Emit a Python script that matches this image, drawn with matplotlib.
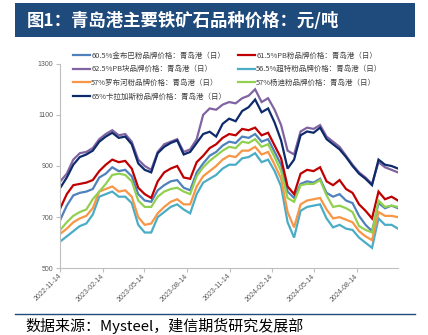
import matplotlib
matplotlib.use("Agg")
import matplotlib.pyplot as plt
import pandas as pd
from matplotlib.patches import Rectangle
from matplotlib.lines import Line2D

plt.rcParams['font.family'] = ['Noto Sans CJK SC', 'DejaVu Sans']

# ---------------- data (~biweekly) ----------------
dates = pd.date_range("2022-11-14", periods=53, freq="14D")

mac_605 = [690, 745, 785, 795, 800, 810, 855, 870, 895, 880, 885, 860, 790, 765, 760,
           805, 825, 840, 845, 815, 805, 875, 910, 940, 955, 980, 995, 990, 1015, 1010,
           1025, 995, 1005, 955, 905, 800, 775, 830, 840, 835, 850, 795, 780, 790, 765,
           755, 705, 670, 645, 755, 735, 745, 735]
pb_615 = [735, 790, 825, 830, 835, 845, 880, 905, 925, 915, 920, 890, 815, 790, 775,
          840, 875, 890, 900, 855, 850, 915, 940, 970, 985, 1010, 1025, 1020, 1045, 1040,
          1050, 1020, 1030, 980, 930, 820, 790, 870, 885, 880, 895, 840, 825, 845, 810,
          795, 750, 725, 695, 800, 770, 780, 765]
pb_lump_625 = [840, 870, 925, 950, 955, 970, 1005, 1025, 1040, 1020, 1025, 995, 925, 900, 885,
               955, 985, 995, 1005, 955, 965, 1005, 1100, 1125, 1120, 1140, 1150, 1145, 1165, 1175,
               1200, 1150, 1165, 1120, 1060, 960, 945, 1035, 1050, 1045, 1060, 1015, 995, 975, 940,
               905, 875, 855, 830, 915, 895, 885, 875]
ssf_565 = [605, 625, 645, 665, 675, 710, 780, 790, 800, 780, 780, 755, 670, 640, 640,
           700, 720, 740, 750, 730, 715, 790, 835, 850, 865, 890, 905, 905, 930, 935,
           950, 915, 925, 880, 820, 680, 620, 725, 740, 745, 750, 695, 660, 670, 655,
           650, 620, 600, 580, 695, 670, 670, 655]
robe_57 = [635, 655, 680, 695, 705, 735, 800, 810, 820, 800, 805, 780, 700, 670, 675,
           715, 740, 760, 770, 750, 750, 820, 860, 880, 900, 925, 940, 935, 960, 960,
           975, 945, 955, 905, 850, 720, 660, 750, 765, 770, 775, 730, 695, 700, 690,
           680, 645, 625, 610, 720, 705, 705, 700]
yandi_57 = [650, 680, 705, 720, 730, 770, 800, 830, 865, 870, 865, 840, 765, 740, 740,
            780, 800, 810, 815, 800, 790, 860, 895, 920, 940, 960, 975, 970, 995, 990,
            1005, 975, 985, 935, 880, 775, 760, 825, 830, 830, 845, 785, 740, 745, 735,
            720, 665, 650, 640, 765, 740, 745, 740]
carajas_65 = [815, 855, 905, 935, 945, 960, 995, 1015, 1030, 1010, 1015, 985, 910, 885, 875,
              950, 975, 990, 1000, 945, 955, 990, 1025, 1034, 1015, 1065, 1085, 1075, 1115, 1130,
              1160, 1110, 1125, 1070, 1000, 890, 925, 1020, 1035, 1030, 1050, 1005, 985, 965, 935,
              900, 870, 850, 825, 925, 905, 900, 890]

series = [
    ("60.5%金布巴粉品牌价格：青岛港（日）", mac_605, "#4F81BD"),
    ("61.5%PB粉品牌价格：青岛港（日）", pb_615, "#C00000"),
    ("62.5%PB块品牌价格：青岛港（日）", pb_lump_625, "#8064A2"),
    ("56.5%超特粉品牌价格：青岛港（日）", ssf_565, "#4BACC6"),
    ("57%罗布河粉品牌价格：青岛港（日）", robe_57, "#F79646"),
    ("57%杨迪粉品牌价格：青岛港（日）", yandi_57, "#92D050"),
    ("65%卡拉加斯粉品牌价格：青岛港（日）", carajas_65, "#0D2A6B"),
]

tick_dates = ["2022-11-14", "2023-02-14", "2023-05-14", "2023-08-14",
              "2023-11-14", "2024-02-14", "2024-05-14", "2024-08-14"]
y_ticks = [500, 700, 900, 1100, 1300]

title = "图1：青岛港主要铁矿石品种价格：元/吨"
source = "数据来源：Mysteel，建信期货研究发展部"

# ---------------- figure ----------------
W, H = 428, 335
fig = plt.figure(figsize=(W / 100, H / 100), dpi=100)
fig.patch.set_facecolor("white")

# title bar
fig.patches.append(Rectangle((15 / W, 1 - 37.3 / H), 400 / W, 34 / H,
                             transform=fig.transFigure, facecolor="#1F4A7C",
                             edgecolor="none", zorder=0))
fig.text(27 / W, 1 - 20.5 / H, title, color="white", fontsize=12.5,
         fontweight="bold", ha="left", va="center")

ax = fig.add_axes([60.3 / W, 1 - 268.3 / H, (398 - 60.3) / W, (268.3 - 63.7) / H])

lines = {}
for label, vals, col in series:
    ln, = ax.plot(dates, vals, color=col, lw=1.6, label=label, solid_joinstyle="miter")
    lines[label] = ln

ax.set_xlim(dates[0], dates[-1])
ax.set_ylim(500, 1300)
ax.set_yticks(y_ticks)
ax.set_yticklabels([str(v) for v in y_ticks])
ax.set_xticks(pd.to_datetime(tick_dates))
ax.set_xticklabels(tick_dates, rotation=45, ha="right", va="center",
                   rotation_mode="anchor")

for s in ("top", "right"):
    ax.spines[s].set_visible(False)
for s in ("left", "bottom"):
    ax.spines[s].set_color("#BFBFBF")
    ax.spines[s].set_linewidth(0.8)
ax.tick_params(axis="both", colors="#BFBFBF", length=3, width=0.8,
               labelcolor="#595959", labelsize=5)
ax.tick_params(axis="x", pad=2)
ax.tick_params(axis="y", pad=2)
for lbl in ax.get_xticklabels() + ax.get_yticklabels():
    lbl.set_fontfamily(["Liberation Sans", "DejaVu Sans"])

# legends: two columns placed independently
labs = [s[0] for s in series]
col1 = [labs[0], labs[2], labs[4], labs[6]]
col2 = [labs[1], labs[3], labs[5]]
common = dict(loc="upper left", frameon=False, fontsize=5.4, handlelength=2.27,
              handletextpad=0.15, labelspacing=0.75, borderpad=0, borderaxespad=0,
              bbox_transform=fig.transFigure)
leg1 = ax.legend([lines[l] for l in col1], col1, bbox_to_anchor=(73 / W, 1 - 51.5 / H), **common)
ax.add_artist(leg1)
leg2 = ax.legend([lines[l] for l in col2], col2, bbox_to_anchor=(238 / W, 1 - 51.5 / H), **common)
for lg in (leg1, leg2):
    for t in lg.get_texts():
        t.set_color("#404040")

# bottom rule and source
fig.add_artist(Line2D([15 / W, 415 / W], [1 - 314 / H, 1 - 314 / H],
                      transform=fig.transFigure, color="#1F4A7C", lw=1))
fig.text(25 / W, 1 - 326 / H, source, fontsize=10.8, ha="left", va="center",
         color="#000000")

fig.savefig("out.png", dpi=100)
